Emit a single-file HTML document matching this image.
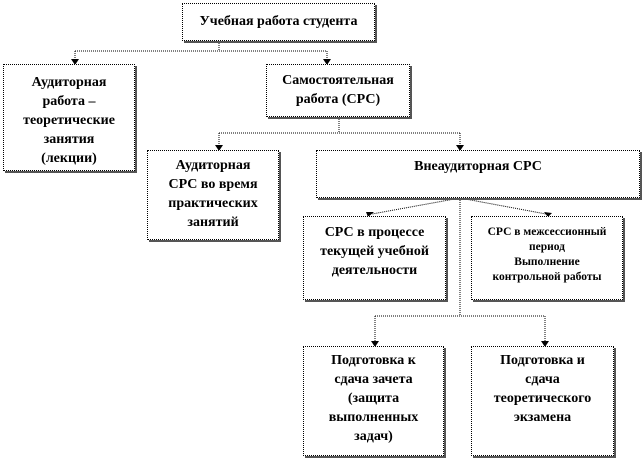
<html><head><style>
body{margin:0;width:642px;height:463px;background:#fff;position:relative;overflow:hidden}
.b{position:absolute;box-sizing:border-box;border:1px dotted #000;background:#fff;box-shadow:2px 2px 0 #555;font:bold 14px/19px "Liberation Serif",serif;text-align:center;color:#000}
svg{position:absolute;left:0;top:0}
</style></head><body>
<svg width="642" height="463">
<g stroke="#000" stroke-width="1" stroke-dasharray="1,1" fill="none">
<path d="M219 41V51M75 51H327M75 51V60M327 51V60"/>
<path d="M339 117V133M219 133H460M219 133V146M460 133V146"/>
<path d="M460 198L372 214M460 198L546 214M460 198V316M375 316H545M375 316V342M545 316V342"/>
</g>
<g fill="#000">
<path d="M71 59h8l-4 6z"/><path d="M323 59h8l-4 6z"/>
<path d="M215 145h8l-4 6z"/><path d="M456 145h8l-4 6z"/>
<path d="M366 212l8 0-6 5z"/><path d="M544 212l8 1-4 4z"/>
<path d="M371 341h8l-4 6z"/><path d="M541 341h8l-4 6z"/>
</g>
</svg>
<div class="b" style="left:182px;top:3px;width:193px;height:38px;padding-top:8px">Учебная работа студента</div>
<div class="b" style="left:3px;top:64px;width:132px;height:107px;padding-top:8px">Аудиторная<br>работа –<br>теоретические<br>занятия<br>(лекции)</div>
<div class="b" style="left:266px;top:64px;width:144px;height:53px;padding-top:6px">Самостоятельная<br>работа (СРС)</div>
<div class="b" style="left:147px;top:150px;width:132px;height:90px;padding-top:5px">Аудиторная<br>СРС во время<br>практических<br>занятий</div>
<div class="b" style="left:316px;top:150px;width:324px;height:48px;padding-top:6px">Внеаудиторная СРС</div>
<div class="b" style="left:303px;top:216px;width:143px;height:84px;padding-top:6px">СРС в процессе<br>текущей учебной<br>деятельности</div>
<div class="b" style="left:471px;top:216px;width:152px;height:84px;padding-top:8px;font-size:11.5px;line-height:15px">СРС в межсессионный<br>период<br>Выполнение<br>контрольной работы</div>
<div class="b" style="left:303px;top:346px;width:141px;height:110px;padding-top:4px">Подготовка к<br>сдача зачета<br>(защита<br>выполненных<br>задач)</div>
<div class="b" style="left:471px;top:346px;width:143px;height:110px;padding-top:4px">Подготовка и<br>сдача<br>теоретического<br>экзамена</div>
</body></html>
